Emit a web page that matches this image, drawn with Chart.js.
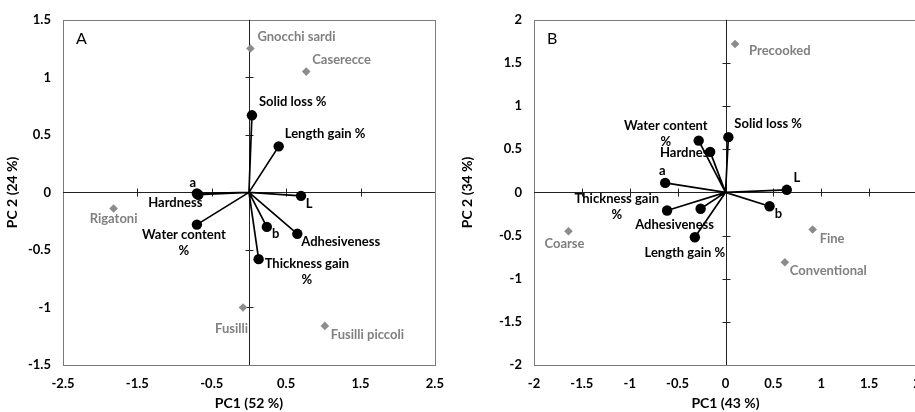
<!DOCTYPE html>
<html><head><meta charset="utf-8">
<script src="https://cdn.jsdelivr.net/npm/chart.js@4/dist/chart.umd.min.js"></script>
<style>
html,body{margin:0;padding:0;background:#fff;overflow:hidden;width:915px;height:412px;}
#wa{position:absolute;left:0;top:0;width:455px;height:412px;}
#wb{position:absolute;left:455px;top:0;width:480px;height:412px;}
</style></head><body>
<div id="wa"><canvas id="ca"></canvas></div>
<div id="wb"><canvas id="cb"></canvas></div>
<script>
// ---------- DATA: Panel A ----------
const varNamesA = ["Solid loss %", "Length gain %", "a", "Hardness", "L", "Water content\n%", "b", "Adhesiveness", "Thickness gain\n%"];
const varXA = [0.04, 0.40, -0.70, -0.68, 0.70, -0.70, 0.24, 0.65, 0.13];
const varYA = [0.67, 0.40, -0.01, -0.02, -0.03, -0.28, -0.30, -0.36, -0.58];
const sampleNamesA = ["Gnocchi sardi", "Caserecce", "Rigatoni", "Fusilli", "Fusilli piccoli"];
const sampleXA = [0.02, 0.77, -1.82, -0.08, 1.02];
const sampleYA = [1.25, 1.05, -0.14, -1.00, -1.16];
const axisTitlesA = ["PC1 (52 %)", "PC 2 (24 %)"];

// ---------- DATA: Panel B ----------
const varNamesB = ["Water content\n%", "Solid loss %", "Hardness", "a", "L", "Thickness gain\n%", "Adhesiveness", "Length gain %", "b"];
const varXB = [-0.28, 0.03, -0.16, -0.63, 0.64, -0.61, -0.26, -0.32, 0.46];
const varYB = [0.60, 0.64, 0.47, 0.11, 0.03, -0.21, -0.19, -0.52, -0.16];
const sampleNamesB = ["Precooked", "Coarse", "Fine", "Conventional"];
const sampleXB = [0.10, -1.64, 0.91, 0.62];
const sampleYB = [1.72, -0.45, -0.43, -0.81];
const axisTitlesB = ["PC1 (43 %)", "PC 2 (34 %)"];

// ---------- label placement (pixels relative to point) ----------
const varLabelPosA = [[7,-13,'left'],[6,-13,'left'],[-4,-11,'center'],[4,8,'right'],[8,8,'center'],[-13,10,'center'],[9,7,'center'],[4,8,'left'],[6,5,'left']];
const sampleLabelPosA = [[7,-12,'left'],[6,-12,'left'],[0,10,'center'],[5,21,'right'],[6,9,'left']];
const varLabelPosB = [[9,-15,'right'],[6,-13,'left'],[4,1,'right'],[-3,-12,'center'],[10,-12,'center'],[-8,-12,'right'],[-26,16,'center'],[-10,16,'center'],[9,8,'center']];
const sampleLabelPosB = [[14,7,'left'],[-4,13,'center'],[7,9,'left'],[5,9,'left']];

const F = "Lato, 'DejaVu Sans', sans-serif";
const GREY = '#808080';

function pts(xs, ys){ return xs.map((v,i)=>({x:v, y:ys[i]})); }
function fmt(v){ return String(Math.round(v*10)/10); }

const overlay = {
  id: 'overlay',
  beforeDatasetsDraw(chart, args, opts) {
    const {ctx, chartArea:a, scales:{x, y}} = chart;
    ctx.save();
    ctx.lineWidth = 1;
    ctx.strokeStyle = '#7a7a7a';
    ctx.strokeRect(Math.round(a.left)+0.5, Math.round(a.top)+0.5, Math.round(a.right-a.left), Math.round(a.bottom-a.top));
    const x0 = Math.round(x.getPixelForValue(0))+0.5;
    const y0 = Math.round(y.getPixelForValue(0))+0.5;
    ctx.strokeStyle = '#222';
    ctx.beginPath();
    ctx.moveTo(a.left, y0); ctx.lineTo(a.right, y0);
    ctx.moveTo(x0, a.top); ctx.lineTo(x0, a.bottom);
    x.ticks.forEach(t => {
      const p = Math.round(x.getPixelForValue(t.value))+0.5;
      if (t.value !== 0 && p > a.left+2 && p < a.right-2) { ctx.moveTo(p, y0-4); ctx.lineTo(p, y0+4); }
    });
    y.ticks.forEach(t => {
      const p = Math.round(y.getPixelForValue(t.value))+0.5;
      if (t.value !== 0 && p > a.top+2 && p < a.bottom-2) { ctx.moveTo(x0-4, p); ctx.lineTo(x0+4, p); }
    });
    ctx.stroke();
    // loading vectors
    const meta = chart.getDatasetMeta(1);
    ctx.strokeStyle = '#000';
    ctx.lineWidth = 1.7;
    ctx.beginPath();
    meta.data.forEach(el => { ctx.moveTo(x.getPixelForValue(0), y.getPixelForValue(0)); ctx.lineTo(el.x, el.y); });
    ctx.stroke();
    // panel letter
    ctx.fillStyle = '#000';
    ctx.font = "16px " + F;
    ctx.textBaseline = 'middle';
    ctx.textAlign = 'left';
    ctx.fillText(opts.letter, a.left + 13, a.top + 19);
    ctx.restore();
  },
  afterDatasetsDraw(chart, args, opts) {
    const {ctx} = chart;
    ctx.save();
    ctx.font = "bold 13px " + F;
    ctx.textBaseline = 'middle';
    const draw = (dsIndex, names, pos, color) => {
      const meta = chart.getDatasetMeta(dsIndex);
      ctx.fillStyle = color;
      meta.data.forEach((el, i) => {
        const lines = names[i].split('\n');
        const [dx, dy, al] = pos[i];
        const w = Math.max(...lines.map(l => ctx.measureText(l).width));
        let cx;
        if (al === 'left') cx = el.x + dx + w/2;
        else if (al === 'right') cx = el.x + dx - w/2;
        else cx = el.x + dx;
        ctx.textAlign = 'center';
        lines.forEach((l, j) => ctx.fillText(l, cx, el.y + dy + j*16));
      });
    };
    draw(0, opts.sampleNames, opts.samplePos, GREY);
    draw(1, opts.varNames, opts.varPos, '#000');
    ctx.restore();
  }
};

function makeChart(id, cfg) {
  const tickFont = {family: F, size: 13, weight: 'bold'};
  const titleFont = {family: F, size: 14, weight: 'bold'};
  return new Chart(document.getElementById(id), {
    type: 'scatter',
    data: {
      datasets: [
        {data: pts(cfg.sx, cfg.sy), pointStyle: 'rectRot', pointRadius: 4.3, backgroundColor: '#8c8c8c', borderWidth: 0},
        {data: pts(cfg.vx, cfg.vy), pointStyle: 'circle', pointRadius: 5.2, backgroundColor: '#000', borderWidth: 0}
      ]
    },
    options: {
      responsive: true, maintainAspectRatio: false, animation: false, events: [], devicePixelRatio: 1,
      layout: {padding: {top: 18, right: cfg.padRight, left: 0, bottom: 0}},
      plugins: {legend: {display: false}, tooltip: {enabled: false},
        overlay: {letter: cfg.letter, varNames: cfg.vn, varPos: cfg.vp, sampleNames: cfg.sn, samplePos: cfg.sp}},
      scales: {
        x: {type: 'linear', min: cfg.xmin, max: cfg.xmax,
          ticks: {stepSize: cfg.xstep, color: '#000', font: tickFont, padding: 11, maxRotation: 0, autoSkip: false, callback: fmt},
          grid: {display: false, drawTicks: false}, border: {display: false},
          title: {display: true, text: cfg.titles[0], color: '#000', font: titleFont, padding: {top: 2, bottom: 0}},
          afterFit: s => { s.height = 47; }},
        y: {type: 'linear', min: cfg.ymin, max: cfg.ymax,
          ticks: {stepSize: 0.5, color: '#000', font: tickFont, padding: 12, autoSkip: false, callback: fmt},
          grid: {display: false, drawTicks: false}, border: {display: false},
          title: {display: true, text: cfg.titles[1], color: '#000', font: titleFont, padding: {top: 4, bottom: 0}},
          afterFit: s => { s.width = cfg.yWidth; }}
      }
    },
    plugins: [overlay]
  });
}

makeChart('ca', {letter: 'A', sx: sampleXA, sy: sampleYA, vx: varXA, vy: varYA, vn: varNamesA, vp: varLabelPosA, sn: sampleNamesA, sp: sampleLabelPosA,
  xmin: -2.5, xmax: 2.5, xstep: 1, ymin: -1.5, ymax: 1.5, titles: axisTitlesA, yWidth: 63, padRight: 14});
makeChart('cb', {letter: 'B', sx: sampleXB, sy: sampleYB, vx: varXB, vy: varYB, vn: varNamesB, vp: varLabelPosB, sn: sampleNamesB, sp: sampleLabelPosB,
  xmin: -2, xmax: 2, xstep: 0.5, ymin: -2, ymax: 2, titles: axisTitlesB, yWidth: 79, padRight: 18});
</script>
</body></html>
